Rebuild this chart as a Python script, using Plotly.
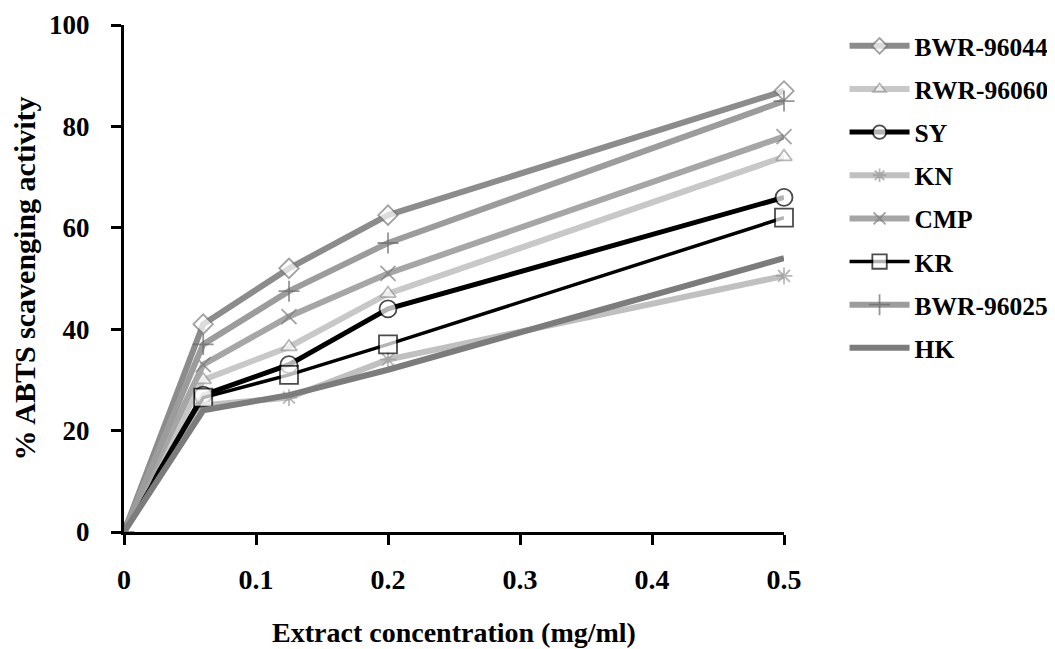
import plotly.graph_objects as go

conc = [0, 0.06, 0.125, 0.2, 0.5]
bwr_96044 = [0, 41, 52, 62.5, 87]
rwr_96060 = [0, 30, 36.5, 47, 74]
sy = [0, 27, 33, 44, 66]
kn = [0, 25, 26.5, 34, 50.5]
cmp_ = [0, 33, 42.5, 51, 78]
kr = [0, 26.5, 31, 37, 62]
bwr_96025 = [0, 37, 47.5, 57, 85]
hk = [0, 24, 27, 32, 54]

FONT = "Liberation Serif"

series = [
    ("BWR-96044", bwr_96044, "#8c8c8c", 6, "diamond", "#7a7a7a", 15, False),
    ("RWR-96060", rwr_96060, "#c8c8c8", 6, "triangle-up", "#9a9a9a", 14, False),
    ("SY", sy, "#000000", 5, "circle", "#000000", 17, False),
    ("KN", kn, "#c0c0c0", 6, "asterisk-open", "#9a9a9a", 14, False),
    ("CMP", cmp_, "#a6a6a6", 6, "x-thin-open", "#7a7a7a", 15, False),
    ("KR", kr, "#000000", 3.5, "square", "#000000", 18, False),
    ("BWR-96025", bwr_96025, "#9c9c9c", 6, "cross-thin-open", "#6a6a6a", 15, True),
    ("HK", hk, "#7c7c7c", 6, None, None, 0, False),
]

fig = go.Figure()
for name, vals, col, w, sym, mcol, msize, show_origin in series:
    if sym is None:
        fig.add_trace(go.Scatter(x=conc, y=vals, name=name, mode="lines",
                                 line=dict(color=col, width=w),
                                 legendgroup=name, cliponaxis=False))
    else:
        filled = not sym.endswith("open")
        sizes = [msize if (i > 0 or show_origin) else 0 for i in range(len(conc))]
        marker = dict(symbol=sym, size=sizes,
                      color="white" if filled else mcol,
                      line=dict(color=mcol, width=1.8))
        fig.add_trace(go.Scatter(x=conc, y=vals, name=name, mode="lines+markers",
                                 line=dict(color=col, width=w), marker=marker,
                                 legendgroup=name, cliponaxis=False))

# page body has an 8px margin, so the figure is sized to end at the window edge
fig.update_layout(
    width=1047, height=641,
    paper_bgcolor="white", plot_bgcolor="white",
    margin=dict(l=116, r=271, t=17, b=117, autoexpand=False),
    font=dict(family=FONT, color="black"),
    showlegend=True,
    legend=dict(x=0.799, xref="container", y=0.977, yref="container",
                xanchor="left", yanchor="top", maxheight=630,
                font=dict(family=FONT, size=25.5, color="black", weight="bold"),
                tracegroupgap=7, itemwidth=60, bgcolor="rgba(0,0,0,0)"),
    xaxis=dict(range=[0, 0.5], tickvals=[0, 0.1, 0.2, 0.3, 0.4, 0.5],
               ticktext=["0", "0.1", "0.2", "0.3", "0.4", "0.5"],
               automargin=False,
               showgrid=False, zeroline=False, showline=True,
               linecolor="black", linewidth=3, ticks="outside", ticklen=10,
               tickwidth=2.5, tickcolor="black", ticklabelstandoff=10,
               tickfont=dict(family=FONT, size=28, weight="bold"),
               title=dict(text="Extract concentration (mg/ml)", standoff=29,
                          font=dict(family=FONT, size=28, weight="bold"))),
    yaxis=dict(range=[0, 100], tickvals=[0, 20, 40, 60, 80, 100],
               automargin=False,
               showgrid=False, zeroline=False, showline=True,
               linecolor="black", linewidth=3, ticks="outside", ticklen=10,
               tickwidth=2.5, tickcolor="black", ticklabelstandoff=16,
               tickfont=dict(family=FONT, size=27, weight="bold"),
               title=dict(text="% ABTS scavenging activity", standoff=5,
                          font=dict(family=FONT, size=30, weight="bold"))),
)

fig.write_html("out.html")
